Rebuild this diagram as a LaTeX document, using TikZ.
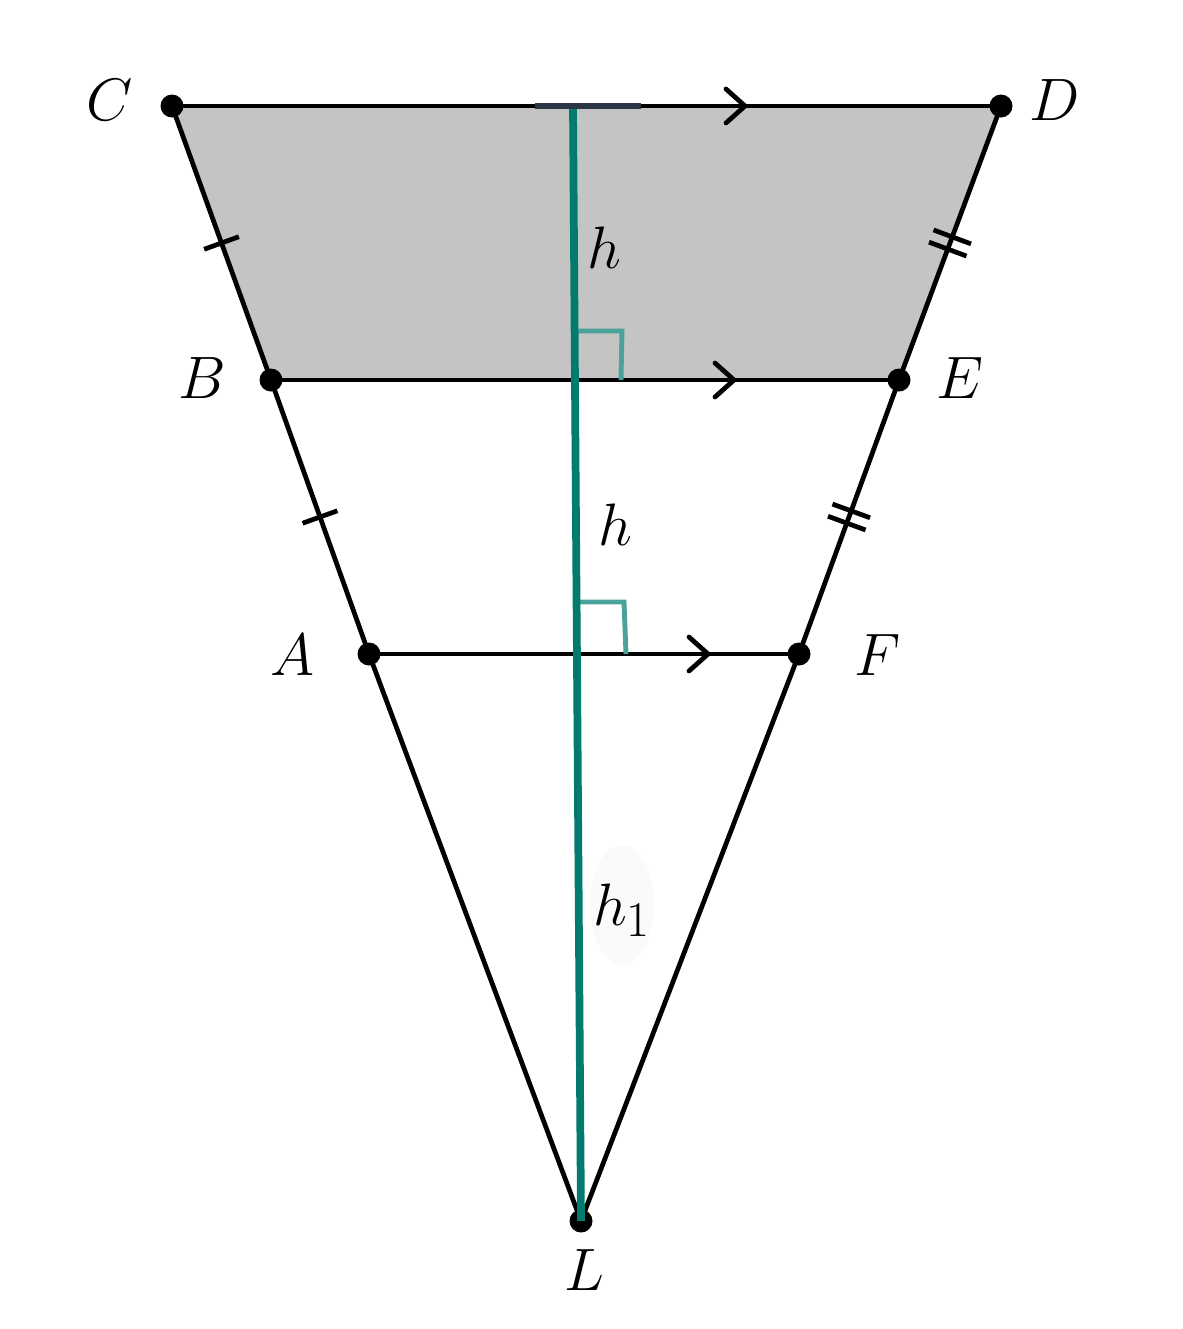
\documentclass[tikz,border=0pt]{standalone}
\usetikzlibrary{calc}
\definecolor{tealA}{HTML}{007B6E}
\definecolor{tealB}{HTML}{4AA39A}
\definecolor{shadeG}{HTML}{C4C4C4}
\definecolor{navyD}{HTML}{2B3544}
\newcommand{\lbtxt}[1]{\scalebox{1.37}{$#1$}}
\begin{document}
\begin{tikzpicture}[x=0.02cm,y=-0.02cm,
 edge/.style={line width=2.7pt,black},
 dot/.style={circle,fill=black,inner sep=0pt,minimum size=0.46cm},
 lbl/.style={font=\fontsize{24.88}{30}\selectfont},
 alt/.style={line width=4.4pt,tealA},
 rmark/.style={line width=2.8pt,tealB},
 chev/.style={line width=2.7pt,black,line cap=round},
 tickm/.style={line width=2.7pt,black}]
\useasboundingbox (0,0) rectangle (1183,1329);
% points
\coordinate (C) at (172,106);
\coordinate (D) at (1001,106);
\coordinate (B) at (271,380);
\coordinate (E) at (899,380);
\coordinate (A) at (369,654);
\coordinate (F) at (799,654);
\coordinate (L) at (581,1221);
\coordinate (T) at (573,106);
% shaded trapezoid
\fill[shadeG] (C) -- (D) -- (E) -- (B) -- cycle;
% faint ellipse behind h1
\fill[black!2] (622,905) ellipse [x radius=32, y radius=60];
% edges
\draw[edge] (C) -- (D);
\draw[edge] (B) -- (E);
\draw[edge] (A) -- (F);
\draw[edge] (C) -- (B) -- (A) -- (L);
\draw[edge] (D) -- (E) -- (F) -- (L);
% parallel chevrons
\coordinate (pCD) at (745,106);
\coordinate (pBE) at (734,380);
\coordinate (pAF) at (708,654);
\foreach \p in {pCD,pBE,pAF}
  \draw[chev] ($(\p)+(-19,-17)$) -- (\p) -- ($(\p)+(-19,17)$);
% single ticks
\coordinate (m1) at ($(C)!0.5!(B)$);
\coordinate (m2) at ($(B)!0.5!(A)$);
\draw[tickm] ($(m1)!0.37cm!90:(B)$) -- ($(m1)!0.37cm!-90:(B)$);
\draw[tickm] ($(m2)!0.37cm!90:(A)$) -- ($(m2)!0.37cm!-90:(A)$);
% double ticks
\coordinate (m3) at ($(D)!0.5!(E)$);
\coordinate (m4) at ($(E)!0.5!(F)$);
\foreach \s in {-0.13cm,0.13cm}{
  \coordinate (q3) at ($(m3)!\s!(E)$);
  \draw[tickm] ($(q3)!0.4cm!90:(E)$) -- ($(q3)!0.4cm!-90:(E)$);
  \coordinate (q4) at ($(m4)!\s!(F)$);
  \draw[tickm] ($(q4)!0.4cm!90:(F)$) -- ($(q4)!0.4cm!-90:(F)$);
}
% right-angle marks
\coordinate (r1a) at (575,331);
\coordinate (r1b) at (622,331);
\coordinate (r1c) at (621,380);
\coordinate (r2a) at (578,602);
\coordinate (r2b) at (624,602);
\coordinate (r2c) at (626,654);
\draw[rmark] (r1a) -- (r1b) -- (r1c);
\draw[rmark] (r2a) -- (r2b) -- (r2c);
% dots
\foreach \n in {C,D,B,E,A,F,L}
  \node[dot] (d\n) at (\n) {};
% altitude
\draw[alt] (T) -- (dL.center);
\coordinate (s1) at (535,106);
\coordinate (s2) at (641,106);
\draw[line width=3.4pt,navyD] (s1) -- (s2);
% labels
\node[lbl] (lC) at (110,100) {\lbtxt{C}};
\node[lbl] (lD) at (1055,100) {\lbtxt{D}};
\node[lbl] (lB) at (202,378) {\lbtxt{B}};
\node[lbl] (lE) at (960,378) {\lbtxt{E}};
\node[lbl] (lA) at (292,655) {\lbtxt{A}};
\node[lbl] (lF) at (878,655) {\lbtxt{F}};
\node[lbl] (lL) at (584,1270) {\lbtxt{L}};
\node[lbl] (lh1) at (604,248) {\lbtxt{h}};
\node[lbl] (lh2) at (615,525) {\lbtxt{h}};
\node[lbl] (lh3) at (622,910) {\lbtxt{h_1}};
\end{tikzpicture}
\end{document}
